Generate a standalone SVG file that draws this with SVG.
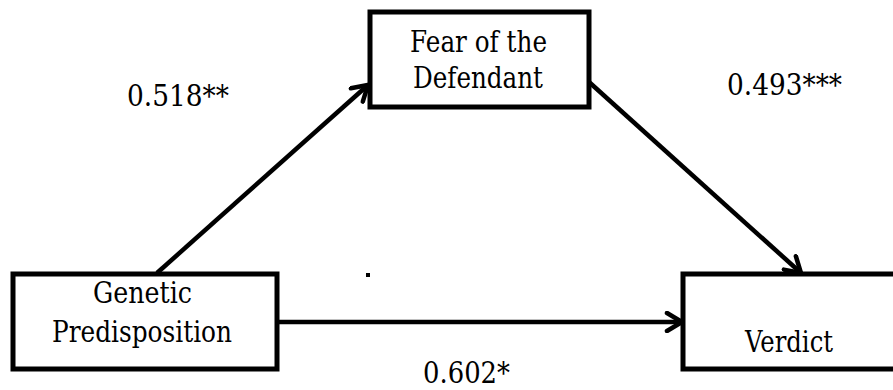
<svg xmlns="http://www.w3.org/2000/svg" width="893" height="390" viewBox="0 0 893 390">
<defs>
<style>
.box{fill:#fff;stroke:#000;stroke-width:5}
.c{stroke:#000;stroke-width:4.5;fill:none}
text{font-family:"DejaVu Serif","Liberation Serif",serif;font-size:29px;fill:#000}
</style>
<marker id="ah" viewBox="0 0 22 22" refX="18" refY="11" markerWidth="22" markerHeight="22" markerUnits="userSpaceOnUse" orient="auto">
<path d="M3,2 L18,11 L3,20" fill="none" stroke="#000" stroke-width="4.5" stroke-linecap="round" stroke-linejoin="miter"/>
</marker>
</defs>
<rect width="893" height="390" fill="#fff"/>
<g id="connectors">
<line class="c" x1="157" y1="273" x2="368" y2="85" marker-end="url(#ah)"/>
<line class="c" x1="589" y1="82" x2="801" y2="273" marker-end="url(#ah)"/>
<line class="c" x1="277" y1="322" x2="682" y2="322" marker-end="url(#ah)"/>
</g>
<g id="fear">
<rect class="box" x="370" y="12" width="219" height="95"/>
<text x="410" y="52" textLength="137" lengthAdjust="spacingAndGlyphs">Fear of the</text>
<text x="413" y="88" textLength="130" lengthAdjust="spacingAndGlyphs">Defendant</text>
</g>
<g id="genetic">
<rect class="box" x="13" y="274" width="264" height="95"/>
<text x="93" y="303" textLength="99" lengthAdjust="spacingAndGlyphs">Genetic</text>
<text x="52" y="342" textLength="180" lengthAdjust="spacingAndGlyphs">Predisposition</text>
</g>
<g id="verdict">
<rect class="box" x="683" y="274" width="230" height="95"/>
<text x="745" y="352" textLength="88" lengthAdjust="spacingAndGlyphs">Verdict</text>
</g>
<g id="labels">
<text x="127" y="106" textLength="102" lengthAdjust="spacingAndGlyphs">0.518**</text>
<text x="727" y="95" textLength="115" lengthAdjust="spacingAndGlyphs">0.493***</text>
<text x="423" y="383" textLength="87" lengthAdjust="spacingAndGlyphs">0.602*</text>
<rect x="366" y="273" width="4" height="4" fill="#000"/>
</g>
</svg>
